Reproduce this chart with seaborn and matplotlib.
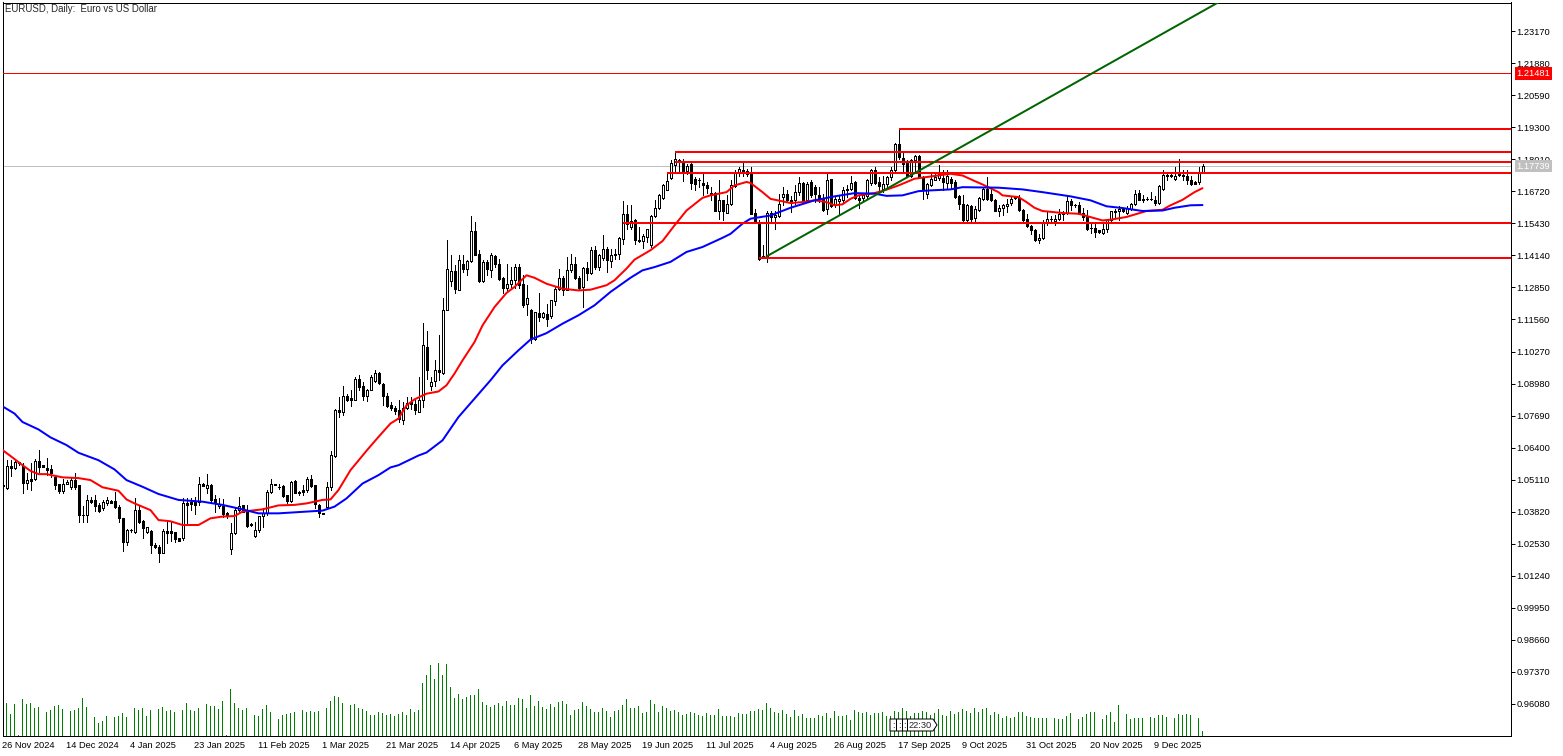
"""EURUSD daily chart, MetaTrader look: candles, two moving averages, levels, tick volume."""
import matplotlib
matplotlib.use('Agg')
import matplotlib.pyplot as plt
from matplotlib.patches import Polygon, Rectangle
from matplotlib.transforms import Affine2D
import numpy as np
import seaborn as sns

opens = [
    1.0490, 1.0479, 1.0565, 1.0556, 1.0580, 1.0565, 1.0498, 1.0513, 1.0512, 1.0585,
    1.0568, 1.0557, 1.0552, 1.0522, 1.0492, 1.0466, 1.0493, 1.0482, 1.0509, 1.0489,
    1.0369, 1.0369, 1.0429, 1.0429, 1.0408, 1.0395, 1.0418, 1.0426, 1.0426, 1.0402,
    1.0355, 1.0261, 1.0308, 1.0301, 1.0388, 1.0344, 1.0301, 1.0304, 1.0248, 1.0241,
    1.0217, 1.0304, 1.0304, 1.0298, 1.0274, 1.0277, 1.0418, 1.0419, 1.0422, 1.0422,
    1.0495, 1.0478, 1.0489, 1.0432, 1.0405, 1.0405, 1.0375, 1.0230, 1.0295, 1.0388,
    1.0408, 1.0381, 1.0331, 1.0285, 1.0308, 1.0364, 1.0375, 1.0462, 1.0491, 1.0480,
    1.0484, 1.0449, 1.0426, 1.0505, 1.0462, 1.0469, 1.0469, 1.0515, 1.0489, 1.0408,
    1.0375, 1.0399, 1.0482, 1.0605, 1.0793, 1.0784, 1.0847, 1.0838, 1.0833, 1.0917,
    1.0887, 1.0846, 1.0873, 1.0908, 1.0940, 1.0897, 1.0846, 1.0810, 1.0801, 1.0790,
    1.0750, 1.0801, 1.0823, 1.0814, 1.0783, 1.0833, 1.1045, 1.0887, 1.0908, 1.0954,
    1.0940, 1.1195, 1.1311, 1.1350, 1.1276, 1.1381, 1.1358, 1.1392, 1.1511, 1.1418,
    1.1310, 1.1388, 1.1357, 1.1410, 1.1381, 1.1324, 1.1283, 1.1298, 1.1314, 1.1367,
    1.1298, 1.1217, 1.1195, 1.1079, 1.1182, 1.1166, 1.1179, 1.1169, 1.1230, 1.1280,
    1.1324, 1.1276, 1.1357, 1.1381, 1.1324, 1.1287, 1.1365, 1.1343, 1.1435, 1.1367,
    1.1405, 1.1441, 1.1390, 1.1417, 1.1421, 1.1482, 1.1580, 1.1529, 1.1558, 1.1478,
    1.1472, 1.1488, 1.1455, 1.1572, 1.1606, 1.1646, 1.1679, 1.1727, 1.1777, 1.1800,
    1.1790, 1.1754, 1.1783, 1.1723, 1.1719, 1.1707, 1.1699, 1.1665, 1.1665, 1.1595,
    1.1636, 1.1586, 1.1622, 1.1693, 1.1747, 1.1757, 1.1754, 1.1750, 1.1585, 1.1544,
    1.1405, 1.1407, 1.1585, 1.1569, 1.1571, 1.1649, 1.1663, 1.1636, 1.1636, 1.1669,
    1.1706, 1.1636, 1.1710, 1.1689, 1.1656, 1.1642, 1.1602, 1.1723, 1.1616, 1.1632,
    1.1638, 1.1676, 1.1683, 1.1710, 1.1646, 1.1646, 1.1652, 1.1706, 1.1759, 1.1708,
    1.1683, 1.1703, 1.1730, 1.1757, 1.1864, 1.1808, 1.1790, 1.1736, 1.1797, 1.1813,
    1.1732, 1.1660, 1.1696, 1.1719, 1.1727, 1.1727, 1.1706, 1.1723, 1.1710, 1.1652,
    1.1622, 1.1558, 1.1612, 1.1566, 1.1598, 1.1642, 1.1683, 1.1660, 1.1638, 1.1595,
    1.1606, 1.1612, 1.1625, 1.1646, 1.1646, 1.1598, 1.1562, 1.1532, 1.1518, 1.1477,
    1.1485, 1.1548, 1.1562, 1.1552, 1.1562, 1.1579, 1.1585, 1.1632, 1.1618, 1.1616,
    1.1585, 1.1571, 1.1526, 1.1526, 1.1515, 1.1504, 1.1522, 1.1558, 1.1589, 1.1595,
    1.1602, 1.1585, 1.1602, 1.1620, 1.1665, 1.1642, 1.1642, 1.1642, 1.1636, 1.1625,
    1.1683, 1.1740, 1.1740, 1.1723, 1.1743, 1.1740, 1.1736, 1.1719, 1.1710, 1.1708,
    1.1750,
]
closes = [
    1.0485, 1.0565, 1.0556, 1.0582, 1.0576, 1.0498, 1.0509, 1.0506, 1.0585, 1.0562,
    1.0562, 1.0549, 1.0536, 1.0489, 1.0466, 1.0495, 1.0502, 1.0509, 1.0482, 1.0369,
    1.0368, 1.0429, 1.0422, 1.0404, 1.0385, 1.0419, 1.0429, 1.0418, 1.0399, 1.0358,
    1.0261, 1.0308, 1.0306, 1.0388, 1.0341, 1.0317, 1.0321, 1.0248, 1.0241, 1.0217,
    1.0304, 1.0295, 1.0297, 1.0270, 1.0265, 1.0418, 1.0408, 1.0412, 1.0408, 1.0495,
    1.0487, 1.0489, 1.0429, 1.0418, 1.0411, 1.0372, 1.0368, 1.0295, 1.0388, 1.0404,
    1.0381, 1.0325, 1.0330, 1.0308, 1.0364, 1.0375, 1.0462, 1.0493, 1.0492, 1.0482,
    1.0445, 1.0426, 1.0502, 1.0458, 1.0455, 1.0462, 1.0515, 1.0485, 1.0412, 1.0375,
    1.0374, 1.0482, 1.0609, 1.0793, 1.0784, 1.0847, 1.0833, 1.0831, 1.0917, 1.0884,
    1.0846, 1.0873, 1.0924, 1.0940, 1.0900, 1.0846, 1.0806, 1.0799, 1.0787, 1.0756,
    1.0801, 1.0821, 1.0817, 1.0790, 1.0830, 1.1052, 1.0954, 1.0904, 1.0954, 1.0944,
    1.1195, 1.1358, 1.1350, 1.1280, 1.1397, 1.1358, 1.1390, 1.1511, 1.1417, 1.1310,
    1.1388, 1.1358, 1.1414, 1.1378, 1.1320, 1.1283, 1.1298, 1.1314, 1.1367, 1.1294,
    1.1216, 1.1244, 1.1079, 1.1186, 1.1166, 1.1182, 1.1159, 1.1233, 1.1280, 1.1324,
    1.1273, 1.1357, 1.1381, 1.1323, 1.1284, 1.1365, 1.1343, 1.1437, 1.1367, 1.1414,
    1.1441, 1.1394, 1.1417, 1.1420, 1.1486, 1.1580, 1.1542, 1.1553, 1.1478, 1.1472,
    1.1491, 1.1519, 1.1572, 1.1606, 1.1656, 1.1699, 1.1712, 1.1786, 1.1804, 1.1790,
    1.1747, 1.1773, 1.1706, 1.1700, 1.1718, 1.1699, 1.1685, 1.1660, 1.1595, 1.1636,
    1.1595, 1.1620, 1.1696, 1.1750, 1.1763, 1.1750, 1.1743, 1.1582, 1.1548, 1.1401,
    1.1410, 1.1585, 1.1569, 1.1575, 1.1622, 1.1660, 1.1636, 1.1625, 1.1669, 1.1706,
    1.1636, 1.1703, 1.1656, 1.1660, 1.1646, 1.1598, 1.1719, 1.1612, 1.1642, 1.1642,
    1.1679, 1.1683, 1.1706, 1.1646, 1.1636, 1.1656, 1.1716, 1.1759, 1.1706, 1.1695,
    1.1703, 1.1730, 1.1757, 1.1864, 1.1810, 1.1783, 1.1736, 1.1800, 1.1813, 1.1732,
    1.1683, 1.1700, 1.1723, 1.1732, 1.1743, 1.1710, 1.1736, 1.1706, 1.1649, 1.1620,
    1.1558, 1.1616, 1.1562, 1.1602, 1.1646, 1.1683, 1.1642, 1.1636, 1.1595, 1.1606,
    1.1616, 1.1622, 1.1642, 1.1649, 1.1598, 1.1558, 1.1532, 1.1515, 1.1475, 1.1485,
    1.1548, 1.1562, 1.1561, 1.1562, 1.1582, 1.1581, 1.1632, 1.1616, 1.1617, 1.1582,
    1.1569, 1.1522, 1.1525, 1.1508, 1.1508, 1.1522, 1.1555, 1.1593, 1.1595, 1.1602,
    1.1593, 1.1606, 1.1622, 1.1663, 1.1638, 1.1636, 1.1641, 1.1641, 1.1625, 1.1692,
    1.1740, 1.1735, 1.1735, 1.1736, 1.1740, 1.1735, 1.1716, 1.1703, 1.1703, 1.1750,
    1.1773,
]
highs = [
    1.0509, 1.0589, 1.0589, 1.0589, 1.0582, 1.0576, 1.0536, 1.0576, 1.0592, 1.0629,
    1.0570, 1.0596, 1.0569, 1.0529, 1.0495, 1.0515, 1.0509, 1.0522, 1.0536, 1.0489,
    1.0404, 1.0449, 1.0442, 1.0449, 1.0415, 1.0429, 1.0442, 1.0429, 1.0462, 1.0408,
    1.0355, 1.0310, 1.0312, 1.0435, 1.0404, 1.0348, 1.0321, 1.0308, 1.0254, 1.0247,
    1.0311, 1.0348, 1.0341, 1.0301, 1.0274, 1.0435, 1.0435, 1.0435, 1.0439, 1.0520,
    1.0497, 1.0532, 1.0495, 1.0449, 1.0435, 1.0431, 1.0381, 1.0335, 1.0395, 1.0442,
    1.0408, 1.0408, 1.0335, 1.0341, 1.0364, 1.0395, 1.0469, 1.0515, 1.0494, 1.0492,
    1.0489, 1.0449, 1.0504, 1.0509, 1.0464, 1.0489, 1.0522, 1.0529, 1.0489, 1.0411,
    1.0378, 1.0502, 1.0627, 1.0797, 1.0844, 1.0887, 1.0855, 1.0873, 1.0924, 1.0931,
    1.0904, 1.0877, 1.0931, 1.0954, 1.0944, 1.0900, 1.0860, 1.0823, 1.0806, 1.0830,
    1.0823, 1.0844, 1.0844, 1.0833, 1.0924, 1.1143, 1.1110, 1.0924, 1.0991, 1.1095,
    1.1242, 1.1475, 1.1414, 1.1374, 1.1414, 1.1414, 1.1394, 1.1572, 1.1549, 1.1435,
    1.1394, 1.1394, 1.1424, 1.1414, 1.1401, 1.1327, 1.1381, 1.1367, 1.1381, 1.1381,
    1.1334, 1.1294, 1.1200, 1.1186, 1.1263, 1.1186, 1.1220, 1.1233, 1.1287, 1.1361,
    1.1330, 1.1408, 1.1418, 1.1408, 1.1330, 1.1367, 1.1388, 1.1448, 1.1451, 1.1421,
    1.1495, 1.1448, 1.1441, 1.1441, 1.1488, 1.1632, 1.1616, 1.1616, 1.1562, 1.1529,
    1.1499, 1.1522, 1.1576, 1.1636, 1.1660, 1.1703, 1.1750, 1.1797, 1.1830, 1.1804,
    1.1804, 1.1783, 1.1790, 1.1730, 1.1727, 1.1750, 1.1710, 1.1689, 1.1669, 1.1719,
    1.1636, 1.1656, 1.1716, 1.1759, 1.1770, 1.1786, 1.1763, 1.1770, 1.1602, 1.1555,
    1.1458, 1.1595, 1.1595, 1.1595, 1.1663, 1.1689, 1.1676, 1.1652, 1.1696, 1.1730,
    1.1710, 1.1710, 1.1716, 1.1696, 1.1689, 1.1663, 1.1743, 1.1723, 1.1652, 1.1656,
    1.1689, 1.1696, 1.1736, 1.1712, 1.1656, 1.1663, 1.1723, 1.1763, 1.1770, 1.1730,
    1.1736, 1.1736, 1.1770, 1.1867, 1.1920, 1.1830, 1.1800, 1.1804, 1.1817, 1.1817,
    1.1736, 1.1706, 1.1750, 1.1750, 1.1777, 1.1757, 1.1757, 1.1730, 1.1716, 1.1656,
    1.1656, 1.1622, 1.1616, 1.1612, 1.1649, 1.1689, 1.1730, 1.1689, 1.1642, 1.1616,
    1.1622, 1.1642, 1.1652, 1.1652, 1.1656, 1.1602, 1.1582, 1.1535, 1.1522, 1.1501,
    1.1555, 1.1589, 1.1571, 1.1575, 1.1602, 1.1595, 1.1652, 1.1642, 1.1622, 1.1629,
    1.1606, 1.1598, 1.1542, 1.1544, 1.1518, 1.1548, 1.1562, 1.1595, 1.1602, 1.1612,
    1.1606, 1.1612, 1.1625, 1.1679, 1.1676, 1.1656, 1.1649, 1.1669, 1.1652, 1.1696,
    1.1757, 1.1750, 1.1743, 1.1770, 1.1804, 1.1757, 1.1757, 1.1736, 1.1712, 1.1770,
    1.1781,
]
lows = [
    1.0475, 1.0475, 1.0525, 1.0552, 1.0570, 1.0458, 1.0475, 1.0469, 1.0509, 1.0542,
    1.0560, 1.0529, 1.0522, 1.0475, 1.0458, 1.0458, 1.0493, 1.0475, 1.0475, 1.0341,
    1.0341, 1.0341, 1.0418, 1.0385, 1.0381, 1.0388, 1.0408, 1.0415, 1.0395, 1.0341,
    1.0225, 1.0248, 1.0301, 1.0297, 1.0335, 1.0275, 1.0297, 1.0214, 1.0234, 1.0177,
    1.0217, 1.0254, 1.0265, 1.0261, 1.0262, 1.0268, 1.0338, 1.0388, 1.0372, 1.0408,
    1.0485, 1.0458, 1.0422, 1.0381, 1.0395, 1.0359, 1.0355, 1.0210, 1.0292, 1.0381,
    1.0381, 1.0321, 1.0325, 1.0278, 1.0301, 1.0319, 1.0368, 1.0455, 1.0489, 1.0475,
    1.0442, 1.0415, 1.0422, 1.0455, 1.0449, 1.0449, 1.0462, 1.0482, 1.0395, 1.0359,
    1.0371, 1.0395, 1.0469, 1.0600, 1.0763, 1.0770, 1.0828, 1.0806, 1.0830, 1.0871,
    1.0830, 1.0828, 1.0871, 1.0904, 1.0897, 1.0810, 1.0803, 1.0793, 1.0776, 1.0743,
    1.0733, 1.0797, 1.0797, 1.0776, 1.0783, 1.0803, 1.0917, 1.0871, 1.0887, 1.0911,
    1.0938, 1.1193, 1.1289, 1.1263, 1.1273, 1.1347, 1.1334, 1.1388, 1.1414, 1.1307,
    1.1307, 1.1334, 1.1327, 1.1367, 1.1314, 1.1263, 1.1267, 1.1287, 1.1284, 1.1284,
    1.1206, 1.1173, 1.1061, 1.1075, 1.1150, 1.1163, 1.1128, 1.1163, 1.1213, 1.1276,
    1.1253, 1.1273, 1.1347, 1.1320, 1.1280, 1.1206, 1.1314, 1.1341, 1.1361, 1.1354,
    1.1397, 1.1347, 1.1367, 1.1401, 1.1401, 1.1461, 1.1522, 1.1522, 1.1461, 1.1468,
    1.1445, 1.1468, 1.1448, 1.1569, 1.1602, 1.1642, 1.1676, 1.1723, 1.1750, 1.1750,
    1.1714, 1.1743, 1.1683, 1.1679, 1.1689, 1.1656, 1.1665, 1.1636, 1.1593, 1.1562,
    1.1555, 1.1585, 1.1616, 1.1689, 1.1736, 1.1736, 1.1736, 1.1579, 1.1544, 1.1397,
    1.1405, 1.1387, 1.1548, 1.1522, 1.1569, 1.1616, 1.1629, 1.1589, 1.1622, 1.1656,
    1.1629, 1.1632, 1.1649, 1.1629, 1.1629, 1.1595, 1.1582, 1.1609, 1.1609, 1.1579,
    1.1629, 1.1649, 1.1676, 1.1642, 1.1606, 1.1636, 1.1642, 1.1696, 1.1703, 1.1669,
    1.1669, 1.1689, 1.1716, 1.1750, 1.1804, 1.1750, 1.1730, 1.1730, 1.1750, 1.1730,
    1.1642, 1.1646, 1.1692, 1.1716, 1.1716, 1.1679, 1.1683, 1.1683, 1.1646, 1.1602,
    1.1548, 1.1548, 1.1548, 1.1548, 1.1595, 1.1638, 1.1636, 1.1633, 1.1593, 1.1571,
    1.1575, 1.1589, 1.1616, 1.1642, 1.1593, 1.1548, 1.1528, 1.1501, 1.1472, 1.1464,
    1.1481, 1.1535, 1.1552, 1.1535, 1.1555, 1.1558, 1.1579, 1.1598, 1.1609, 1.1579,
    1.1558, 1.1518, 1.1504, 1.1488, 1.1505, 1.1499, 1.1508, 1.1551, 1.1569, 1.1555,
    1.1589, 1.1582, 1.1598, 1.1616, 1.1636, 1.1629, 1.1636, 1.1636, 1.1616, 1.1620,
    1.1679, 1.1716, 1.1732, 1.1719, 1.1736, 1.1716, 1.1703, 1.1696, 1.1700, 1.1700,
    1.1746,
]
volumes = [
    30, 33, 22, 32, 1, 37, 32, 33, 28, 29,
    0, 24, 26, 30, 31, 27, 0, 25, 26, 28,
    38, 29, 0, 19, 13, 15, 20, 0, 19, 20,
    23, 19, 0, 28, 26, 28, 20, 26, 0, 27,
    29, 25, 26, 24, 0, 26, 33, 26, 25, 28,
    0, 32, 30, 30, 27, 35, 1, 47, 33, 28,
    26, 28, 0, 21, 20, 27, 31, 24, 0, 17,
    21, 22, 23, 24, 0, 26, 24, 25, 24, 25,
    0, 28, 35, 40, 39, 33, 0, 31, 32, 28,
    27, 25, 21, 21, 24, 23, 21, 22, 20, 22,
    24, 21, 27, 24, 26, 53, 61, 71, 57, 73,
    61, 72, 49, 38, 42, 37, 39, 41, 41, 47,
    34, 31, 29, 31, 33, 30, 35, 31, 31, 38,
    37, 28, 41, 30, 35, 29, 27, 32, 29, 34,
    35, 32, 21, 26, 27, 34, 30, 27, 24, 24,
    28, 25, 19, 25, 26, 31, 37, 28, 28, 30,
    23, 24, 36, 32, 24, 30, 28, 25, 26, 24,
    21, 22, 24, 23, 21, 20, 23, 21, 21, 27,
    20, 20, 20, 19, 23, 22, 22, 25, 25, 27,
    26, 33, 28, 24, 23, 26, 22, 19, 26, 20,
    22, 18, 18, 18, 21, 20, 23, 18, 25, 20,
    20, 21, 16, 26, 24, 23, 24, 21, 23, 23,
    24, 20, 20, 25, 24, 28, 25, 20, 23, 23,
    25, 24, 21, 23, 27, 21, 20, 25, 22, 24,
    27, 25, 23, 28, 24, 27, 28, 21, 24, 22,
    18, 20, 18, 19, 24, 24, 20, 19, 18, 18,
    18, 18, 0, 18, 17, 17, 20, 23, 0, 17,
    19, 22, 24, 24, 0, 17, 21, 24, 14, 31,
    0, 22, 17, 18, 18, 18, 0, 19, 18, 21,
    21, 19, 0, 18, 22, 21, 22, 21, 0, 18,
    5,
]

# moving averages, read at the bars where they bend
red_bars = [0, 2, 5, 7, 9, 11, 15, 19, 22, 25, 29, 31, 33, 37, 39, 42, 45, 49, 52, 55, 58, 60, 65, 69, 73,
            76, 80, 82, 84, 87, 91, 94, 97, 99, 101, 103, 106, 109, 111, 113, 115, 118, 120, 123, 126, 128,
            131, 133, 136, 140, 144, 147, 151, 153, 156, 158, 162, 165, 168, 171, 175, 177, 181, 183, 186,
            187, 190, 192, 195, 197, 200, 203, 206, 208, 210, 212, 214, 218, 221, 224, 228, 232, 237, 240,
            243, 245, 249, 250, 254, 256, 258, 260, 265, 269, 271, 275, 277, 281, 286, 290, 292, 295, 298, 300]
red_ma = [1.0630, 1.0606, 1.0569, 1.0546, 1.0533, 1.0533, 1.0520, 1.0517, 1.0509, 1.0480, 1.0466, 1.0431,
          1.0415, 1.0388, 1.0348, 1.0343, 1.0328, 1.0328, 1.0355, 1.0362, 1.0364, 1.0382, 1.0391, 1.0407,
          1.0409, 1.0415, 1.0429, 1.0431, 1.0469, 1.0549, 1.0627, 1.0683, 1.0737, 1.0757, 1.0810, 1.0834,
          1.0857, 1.0866, 1.0891, 1.0938, 1.0991, 1.1065, 1.1132, 1.1206, 1.1263, 1.1287, 1.1334, 1.1324,
          1.1300, 1.1280, 1.1273, 1.1276, 1.1294, 1.1314, 1.1361, 1.1397, 1.1435, 1.1472, 1.1535, 1.1595,
          1.1646, 1.1656, 1.1669, 1.1696, 1.1710, 1.1706, 1.1669, 1.1642, 1.1632, 1.1625, 1.1629, 1.1636,
          1.1629, 1.1616, 1.1620, 1.1642, 1.1656, 1.1665, 1.1679, 1.1696, 1.1723, 1.1732, 1.1743, 1.1736,
          1.1714, 1.1700, 1.1669, 1.1656, 1.1649, 1.1629, 1.1606, 1.1593, 1.1585, 1.1582, 1.1573, 1.1555,
          1.1558, 1.1569, 1.1593, 1.1598, 1.1616, 1.1638, 1.1669, 1.1685]
blue_bars = [0, 3, 5, 9, 12, 16, 19, 24, 28, 31, 35, 39, 44, 50, 55, 60, 64, 69, 73, 80, 83, 86, 90, 94, 97,
             99, 104, 106, 110, 114, 118, 122, 125, 129, 132, 136, 140, 144, 148, 152, 157, 160, 163, 167,
             171, 175, 180, 182, 185, 187, 192, 197, 203, 208, 213, 218, 221, 225, 229, 232, 237, 240, 249,
             255, 260, 267, 272, 276, 280, 285, 290, 293, 297, 300]
blue_ma = [1.0806, 1.0777, 1.0743, 1.0713, 1.0681, 1.0650, 1.0619, 1.0589, 1.0552, 1.0509, 1.0482, 1.0453,
           1.0429, 1.0422, 1.0409, 1.0391, 1.0375, 1.0375, 1.0379, 1.0386, 1.0402, 1.0435, 1.0495, 1.0529,
           1.0560, 1.0569, 1.0608, 1.0620, 1.0669, 1.0763, 1.0837, 1.0911, 1.0971, 1.1032, 1.1075, 1.1101,
           1.1139, 1.1173, 1.1213, 1.1267, 1.1324, 1.1354, 1.1367, 1.1388, 1.1428, 1.1448, 1.1485, 1.1501,
           1.1542, 1.1562, 1.1575, 1.1606, 1.1636, 1.1652, 1.1665, 1.1663, 1.1654, 1.1656, 1.1673, 1.1676,
           1.1680, 1.1689, 1.1687, 1.1680, 1.1669, 1.1652, 1.1636, 1.1612, 1.1605, 1.1593, 1.1595, 1.1606,
           1.1616, 1.1617]

# drawn objects
level_prices = [1.1924, 1.1831, 1.1790, 1.1746, 1.1545, 1.1402]
level_starts = [224, 168, 168, 166, 155, 189]
trend_bars = [191, 304]
trend_prices = [1.1410, 1.2434]
alert_price = 1.21481
last_price = 1.17739

price_ticks = [1.23170, 1.21880, 1.20590, 1.19300, 1.18010, 1.16720, 1.15430, 1.14140, 1.12850, 1.11560,
               1.10270, 1.08980, 1.07690, 1.06400, 1.05110, 1.03820, 1.02530, 1.01240, 0.99950, 0.98660,
               0.97370, 0.96080]
date_ticks = [0, 16, 32, 48, 64, 80, 96, 112, 128, 144, 160, 176, 192, 208, 224, 240, 256, 272, 288]
date_labels = ['26 Nov 2024', '14 Dec 2024', '4 Jan 2025', '23 Jan 2025', '11 Feb 2025', '1 Mar 2025',
               '21 Mar 2025', '14 Apr 2025', '6 May 2025', '28 May 2025', '19 Jun 2025', '11 Jul 2025',
               '4 Aug 2025', '26 Aug 2025', '17 Sep 2025', '9 Oct 2025', '31 Oct 2025', '20 Nov 2025',
               '9 Dec 2025']

assert len(opens) == len(closes) == len(highs) == len(lows) == len(volumes) == 301, (
    len(opens), len(closes), len(highs), len(lows), len(volumes))
assert len(red_bars) == len(red_ma) and len(blue_bars) == len(blue_ma), (
    len(red_bars), len(red_ma), len(blue_bars), len(blue_ma))

sns.set_theme(style='white')
plt.rcParams['font.family'] = ['Liberation Sans', 'DejaVu Sans']
plt.rcParams['font.size'] = 6.7

PX = 0.72  # one pixel in points at dpi 100
W, H = 1563, 756
fig = plt.figure(figsize=(W / 100, H / 100), dpi=100, facecolor='white')
ax = fig.add_axes([2.5 / W, (H - 735.5) / H, 1508 / W, 733 / H])
ax_vol = ax.twinx()
ax.set_zorder(ax_vol.get_zorder() + 1)
ax.patch.set_visible(False)
ax_vol.patch.set_facecolor('white')

bars = np.arange(len(opens))
o, c, h, l = map(np.array, (opens, closes, highs, lows))

# tick volume pane
sns.barplot(x=bars, y=volumes, native_scale=True, width=0.25, color='#008000', saturation=1,
            linewidth=0, antialiased=False, ax=ax_vol)
ax_vol.set_ylim(0, 733)
ax_vol.set_yticks([])
ax_vol.set_xlabel('')
ax_vol.set_ylabel('')

# candles
ax.vlines(bars, l, h, color='black', linewidth=PX, antialiased=False, zorder=2)
ax.bar(bars, np.abs(c - o), bottom=np.minimum(o, c), width=0.5, linewidth=PX, edgecolor='black',
       color=np.where(c >= o, 'white', 'black').tolist(), antialiased=False, zorder=3)

# moving averages
sns.lineplot(x=red_bars, y=red_ma, color='#ff0000', linewidth=2 * PX, ax=ax, legend=False, zorder=4)
sns.lineplot(x=blue_bars, y=blue_ma, color='#0000ff', linewidth=2 * PX, ax=ax, legend=False, zorder=4)

# levels and trend line
ax.axhline(last_price, color='#c0c0c0', linewidth=PX, antialiased=False, zorder=1)
ax.axhline(alert_price, color='#ff0000', linewidth=PX, antialiased=False, zorder=5)
ax.hlines(level_prices, level_starts, 377, color='#ff0000', linewidth=2 * PX, antialiased=False, zorder=5)
sns.lineplot(x=trend_bars, y=trend_prices, color='#006400', linewidth=2 * PX, ax=ax, legend=False, zorder=5)

ax.set_xlim(0, 377)
ax_vol.set_xlim(0, 377)
ax.set_ylim(0.9480, 1.2433)

ax.yaxis.tick_right()
ax.set_yticks(price_ticks, [f'{t:.5f}' for t in price_ticks])
ax.set_xticks(date_ticks, date_labels)
ax.tick_params(axis='y', length=2.88, width=PX, pad=1.2, labelsize=6.7, colors='black')
ax.tick_params(axis='x', length=2.88, width=PX, pad=1.2, labelsize=6.7, colors='black')
for label in ax.get_xticklabels():
    label.set_ha('left')
ax.set_xlabel('')
ax.set_ylabel('')
for axis in (ax, ax_vol):
    for spine in axis.spines.values():
        spine.set_linewidth(PX)
        spine.set_color('black')

# price tags on the scale
tag_x = 378.5
for price, tag_colour in ((alert_price, '#ff0000'), (last_price, '#c0c0c0')):
    ax.text(tag_x, price, f'{price:.5f}', color='white', fontsize=6.7, va='center', ha='left',
            clip_on=False, zorder=10,
            bbox=dict(facecolor=tag_colour, edgecolor='none', boxstyle='square,pad=0.2'))

# pixel-placed furniture: title and the bar countdown box
px = Affine2D().scale(1, -1).translate(0, H)
fig.text(5, 9.5, 'EURUSD, Daily:  Euro vs US Dollar', transform=px, fontsize=6.95, va='center', ha='left')
fig.add_artist(Polygon([(890, 719), (933, 719), (937, 725), (933, 731), (890, 731)], closed=True,
                       facecolor='white', edgecolor='black', linewidth=PX, transform=px, zorder=6))
for x0 in (896, 902, 907):
    fig.add_artist(Rectangle((x0, 719), 0.5, 12, facecolor='black', edgecolor='none', transform=px, zorder=7))
for x0 in (893, 899, 904):
    fig.text(x0, 725, ':', transform=px, fontsize=6.7, va='center', ha='center', zorder=7)
fig.text(920, 725, '22:30', transform=px, fontsize=6.7, va='center', ha='center', zorder=7)

fig.savefig('out.png', dpi=100, facecolor='white')
